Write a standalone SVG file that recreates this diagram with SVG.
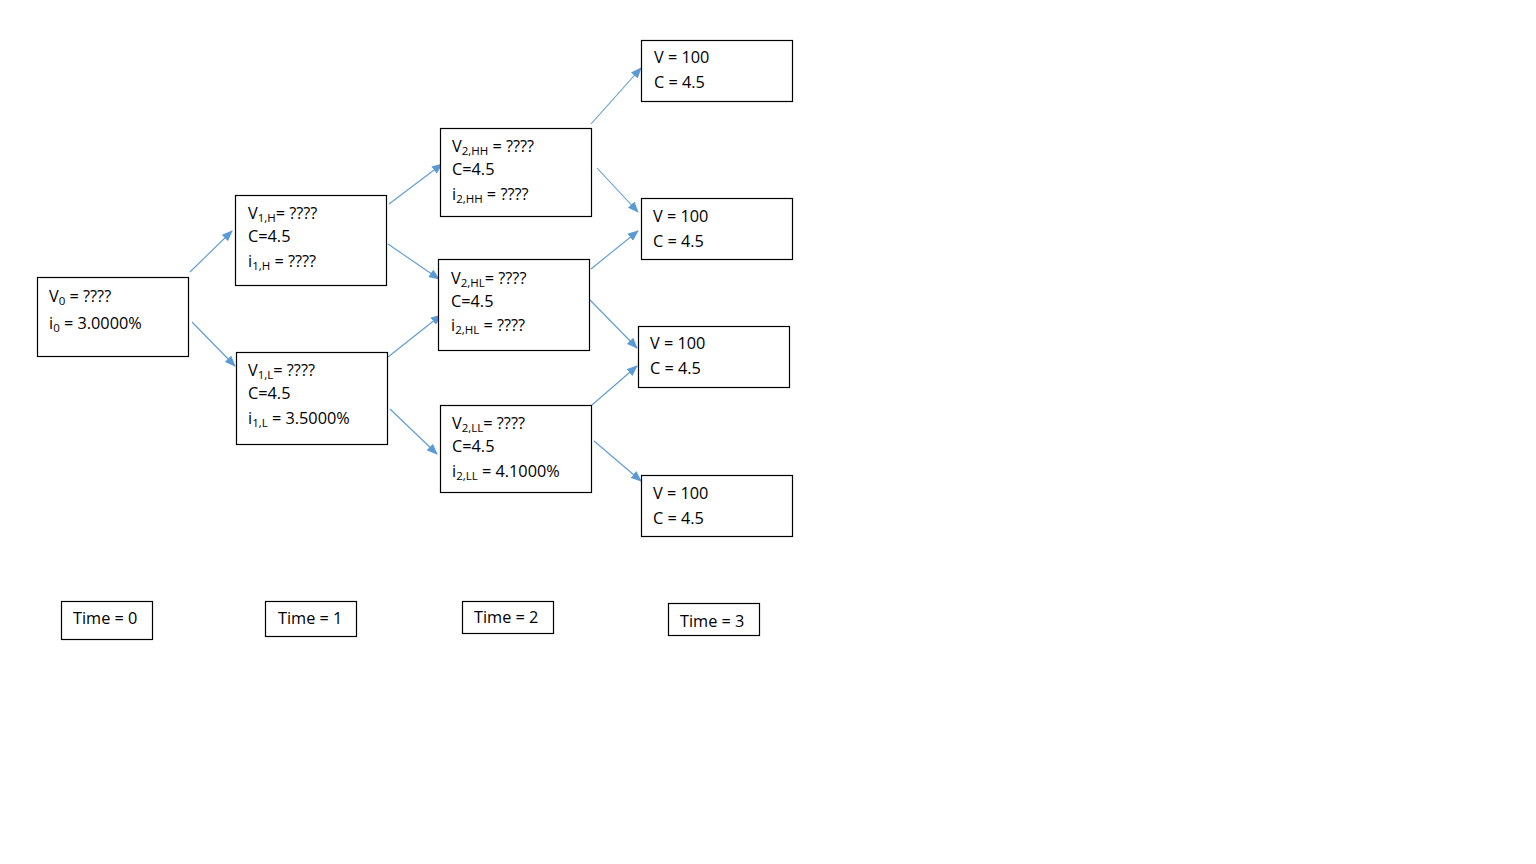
<svg xmlns="http://www.w3.org/2000/svg" width="1536" height="864" viewBox="0 0 1536 864">
<style>
.box{fill:#fff;stroke:#000;stroke-width:1.2}
text{font-family:"Open Sans","Liberation Sans",sans-serif;font-size:16.3px;fill:#000}
.t{font-family:"Liberation Sans Narrow","Open Sans",sans-serif;font-size:16.3px}
.s{font-size:11.5px}
.c line{stroke:#5b9bd5;stroke-width:1.1;marker-end:url(#ah)}
</style>
<defs>
<marker id="ah" markerWidth="11" markerHeight="9" refX="10" refY="4.5" orient="auto" markerUnits="userSpaceOnUse">
<path d="M0,0 L11,4.5 L0,9 Z" fill="#5b9bd5"/>
</marker>
</defs>
<rect width="1536" height="864" fill="#fff"/>
<g class="c" id="connectors">
<line x1="190" y1="272" x2="232" y2="231"/>
<line x1="192" y1="322" x2="235" y2="366"/>
<line x1="389" y1="204" x2="442" y2="164"/>
<line x1="388" y1="244" x2="439" y2="279"/>
<line x1="388" y1="357" x2="441" y2="315"/>
<line x1="390" y1="409" x2="437" y2="454"/>
<line x1="591" y1="124" x2="641" y2="68"/>
<line x1="597" y1="168" x2="638" y2="212"/>
<line x1="591" y1="269" x2="638" y2="231"/>
<line x1="590" y1="300" x2="637" y2="348"/>
<line x1="592" y1="405" x2="637" y2="366"/>
<line x1="594" y1="441" x2="641" y2="481"/>
</g>
<g id="v0"><rect class="box" x="37.5" y="277.5" width="151" height="79"/>
<text x="49" y="302">V<tspan class="s" dy="3">0</tspan><tspan dy="-3"> = ????</tspan></text>
<text x="49" y="329">i<tspan class="s" dy="3">0</tspan><tspan dy="-3"> = 3.0000%</tspan></text></g>
<g id="v1h"><rect class="box" x="235.5" y="195.5" width="151" height="90"/>
<text x="248" y="219">V<tspan class="s" dy="3">1,H</tspan><tspan dy="-3">= ????</tspan></text>
<text x="248" y="242">C=4.5</text>
<text x="248" y="267">i<tspan class="s" dy="3">1,H</tspan><tspan dy="-3"> = ????</tspan></text></g>
<g id="v1l"><rect class="box" x="236.5" y="352.5" width="151" height="92"/>
<text x="248" y="376">V<tspan class="s" dy="3">1,L</tspan><tspan dy="-3">= ????</tspan></text>
<text x="248" y="399">C=4.5</text>
<text x="248" y="424">i<tspan class="s" dy="3">1,L</tspan><tspan dy="-3"> = 3.5000%</tspan></text></g>
<g id="v2hh"><rect class="box" x="440.5" y="128.5" width="151" height="88"/>
<text x="452" y="152">V<tspan class="s" dy="3">2,HH</tspan><tspan dy="-3"> = ????</tspan></text>
<text x="452" y="175">C=4.5</text>
<text x="452" y="200">i<tspan class="s" dy="3">2,HH</tspan><tspan dy="-3"> = ????</tspan></text></g>
<g id="v2hl"><rect class="box" x="438.5" y="259.5" width="151" height="91"/>
<text x="451" y="284">V<tspan class="s" dy="3">2,HL</tspan><tspan dy="-3">= ????</tspan></text>
<text x="451" y="307">C=4.5</text>
<text x="451" y="331">i<tspan class="s" dy="3">2,HL</tspan><tspan dy="-3"> = ????</tspan></text></g>
<g id="v2ll"><rect class="box" x="440.5" y="405.5" width="151" height="87"/>
<text x="452" y="429">V<tspan class="s" dy="3">2,LL</tspan><tspan dy="-3">= ????</tspan></text>
<text x="452" y="452">C=4.5</text>
<text x="452" y="477">i<tspan class="s" dy="3">2,LL</tspan><tspan dy="-3"> = 4.1000%</tspan></text></g>
<g id="t1"><rect class="box" x="641.5" y="40.5" width="151" height="61"/>
<text x="654" y="63">V = 100</text><text x="654" y="88">C = 4.5</text></g>
<g id="t2"><rect class="box" x="641.5" y="198.5" width="151" height="61"/>
<text x="653" y="222">V = 100</text><text x="653" y="247">C = 4.5</text></g>
<g id="t3"><rect class="box" x="638.5" y="326.5" width="151" height="61"/>
<text x="650" y="349">V = 100</text><text x="650" y="374">C = 4.5</text></g>
<g id="t4"><rect class="box" x="641.5" y="475.5" width="151" height="61"/>
<text x="653" y="499">V = 100</text><text x="653" y="524">C = 4.5</text></g>
<g id="time0"><rect class="box" x="61.5" y="601.5" width="91" height="38"/><text class="t" x="73" y="624">Time = 0</text></g>
<g id="time1"><rect class="box" x="265.5" y="601.5" width="91" height="35"/><text class="t" x="278" y="624">Time = 1</text></g>
<g id="time2"><rect class="box" x="462.5" y="601.5" width="91" height="32"/><text class="t" x="474" y="623">Time = 2</text></g>
<g id="time3"><rect class="box" x="668.5" y="603.5" width="91" height="32"/><text class="t" x="680" y="627">Time = 3</text></g>
</svg>
